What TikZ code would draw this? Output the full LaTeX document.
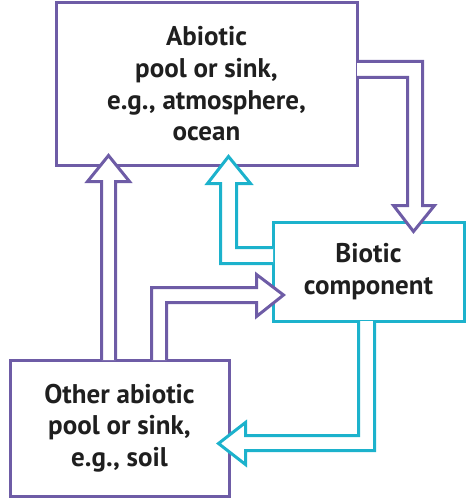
\documentclass[tikz,border=0pt]{standalone}
\usepackage{fontspec}
\usepackage{tikz}
\usetikzlibrary{calc}
\newfontfamily\boxfont{PT Sans}
\definecolor{sinkpurple}{RGB}{110, 92, 166}
\definecolor{biocyan}{RGB}{28, 178, 204}

\tikzset{
  poolbox/.style={draw=sinkpurple, fill=white, line width=3pt, align=center,
    inner sep=0pt, text=black!88, font=\boxfont\bfseries\fontsize{27}{31.7}\selectfont},
  biobox/.style={poolbox, draw=biocyan},
  poolarrow/.style={draw=sinkpurple, fill=white, line width=3pt},
  bioarrow/.style={poolarrow, draw=biocyan}
}

\begin{document}
\begin{tikzpicture}[x=1pt, y=-1pt]
  \useasboundingbox (0, 0) rectangle (466, 500);

  % Boxes
  \node[poolbox, minimum width=301pt, minimum height=162pt] (sink) at (206.5, 84)
    {Abiotic\\pool or sink,\\e.g., atmosphere,\\ocean};
  \node[poolbox, minimum width=219pt, minimum height=136pt] (soil) at (119.5, 428)
    {Other abiotic\\pool or sink,\\e.g., soil};
  \node[biobox, minimum width=191pt, minimum height=99pt] (bio) at (368.5, 271.5)
    {Biotic\\component};

  % Abiotic pool to biotic component
  \path[poolarrow] ($(sink.north east)+(-1.5, 60)$) -- ++(65.5, 0) -- ++(0, 144)
    -- ++(12, 0) -- ++(-21, 26) -- ++(-20, -26) -- ++(14, 0) -- ++(0, -128) -- ++(-50.5, 0);

  % Biotic component back to abiotic pool
  \path[bioarrow] ($(bio.north west)+(1.5, 27)$) -- ++(-36.5, 0) -- ++(0, -64)
    -- ++(14, 0) -- ++(-22, -27) -- ++(-21, 27) -- ++(13, 0) -- ++(0, 80) -- ++(52.5, 0);

  % Other pool up to abiotic pool
  \path[poolarrow] ($(soil.north west)+(93, 1.5)$) -- ++(0, -178.5) -- ++(-14, 0)
    -- ++(21, -26) -- ++(21, 26) -- ++(-14, 0) -- ++(0, 178.5);

  % Other pool to biotic component
  \path[poolarrow] ($(soil.north west)+(143, 1.5)$) -- ++(0, -72.5) -- ++(105, 0)
    -- ++(0, -13) -- ++(27, 20.5) -- ++(-27, 21.5) -- ++(0, -14) -- ++(-90, 0) -- ++(0, 57.5);

  % Biotic component down to other pool
  \path[bioarrow] ($(bio.south west)+(87, -1.5)$) -- ++(0, 114.5) -- ++(-113, 0)
    -- ++(0, -13) -- ++(-27, 21) -- ++(27, 21) -- ++(0, -14) -- ++(129, 0) -- ++(0, -129.5);
\end{tikzpicture}
\end{document}
